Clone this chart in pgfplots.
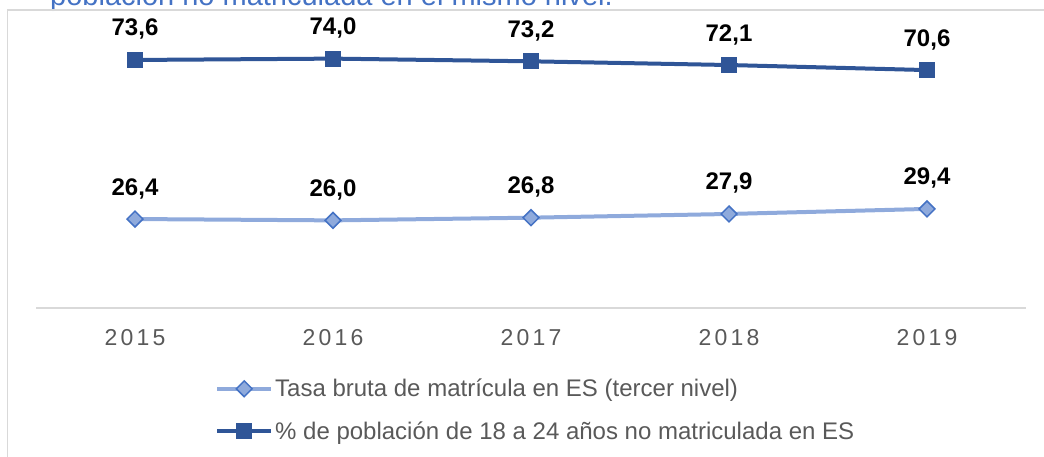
\documentclass[border=0pt]{standalone}
\usepackage{fontspec}
\setmainfont{Liberation Sans}
\newfontfamily\tickfont[LetterSpace=14]{Liberation Sans}
\usepackage{pgfplots}
\pgfplotsset{compat=1.18}
\definecolor{darkb}{RGB}{47,85,151}
\definecolor{lightb}{RGB}{143,170,220}
\definecolor{edgeb}{RGB}{68,114,196}
\definecolor{txtg}{RGB}{89,89,89}
\definecolor{gridg}{RGB}{217,217,217}
\definecolor{titleb}{RGB}{68,114,196}
\begin{document}
\begin{tikzpicture}[x=1pt,y=1pt]
\useasboundingbox (0,0) rectangle (1044,457);
\begin{scope}
\clip (0,0) rectangle (1044,457);
\node[anchor=base west, inner sep=0, text=titleb, font=\fontsize{29}{34}\selectfont] at (50,451) {población no matriculada en el mismo nivel.};
\end{scope}
\draw[gridg, line width=1.5pt] (7.5,0) -- (7.5,447) -- (1044,447);
\begin{axis}[
  at={(36pt,149pt)}, anchor=south west,
  scale only axis, width=990pt, height=269.6pt,
  xmin=-0.5, xmax=4.5, ymin=0, ymax=80,
  axis x line=bottom, axis y line=none,
  x axis line style={gridg, line width=1.5pt, -},
  xtick={0,1,2,3,4}, xticklabels={2015,2016,2017,2018,2019},
  major tick length=0pt, ytick=\empty,
  xticklabel style={font=\tickfont\fontsize{23}{27}\selectfont, text=txtg, anchor=north, inner sep=0pt, yshift=-21pt},
  clip=false,
  nodes near coords, point meta=y,
  nodes near coords style={font=\bfseries\fontsize{24}{28}\selectfont, text=black, anchor=base, inner sep=0pt, yshift=24pt},
  /pgf/number format/.cd, fixed, fixed zerofill, precision=1, use comma, assume math mode=true,
  /pgfplots/.cd,
  legend image code/.code={\draw[mark repeat=2, mark phase=2, #1] plot coordinates {(0pt,0pt) (27pt,0pt) (54pt,0pt)};},
  legend style={at={(0.1808,-0.256)}, anchor=north west, draw=none, fill=none,
    font=\fontsize{24}{28}\selectfont, text=txtg, inner sep=0pt, row sep=19pt,
    nodes={inner sep=2pt}},
  legend cell align=left,
]
\addplot[color=lightb, line width=4pt, mark=square*,
  mark options={fill=lightb, draw=edgeb, line width=1.5pt, rotate=45, mark size=5.6pt}]
  coordinates {(0,26.4) (1,26.0) (2,26.8) (3,27.9) (4,29.4)};
\addlegendentry{Tasa bruta de matrícula en ES (tercer nivel)}
\addplot[color=darkb, line width=4pt, mark=square*,
  mark options={fill=darkb, draw=darkb, line width=1pt, rounded corners=1pt, mark size=7.5pt}]
  coordinates {(0,73.6) (1,74.0) (2,73.2) (3,72.1) (4,70.6)};
\addlegendentry{\% de población de 18 a 24 años no matriculada en ES}
\end{axis}
\end{tikzpicture}
\end{document}
